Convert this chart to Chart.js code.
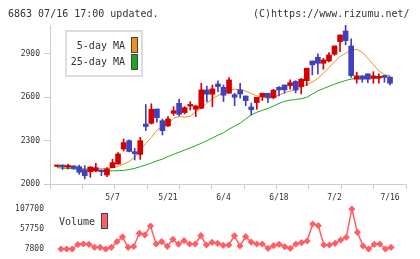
<!DOCTYPE html>
<html>
<head>
<meta charset="utf-8">
<script src="https://cdn.jsdelivr.net/npm/chart.js@4.4.1/dist/chart.umd.min.js"></script>
<style>
  html, body { margin: 0; padding: 0; background: #fff; }
  #wrap { position: relative; width: 420px; height: 259px; overflow: hidden;
          font-family: 'DejaVu Sans Mono', monospace; color: #333; }
  canvas { position: absolute; left: 0; }
  #main { top: 0; }
  #vol  { top: 204px; }
  .txt { position: absolute; font-size: 10px; line-height: 12px; white-space: pre; }
  .sw  { position: absolute; box-sizing: border-box; border: 1px solid #444; }
  #ma-box { position: absolute; left: 65px; top: 30px; width: 78px; height: 47px;
            box-sizing: border-box; border: 2px solid #ddd; background: #fff; }
</style>
</head>
<body>
<div id="wrap">
  <canvas id="main" width="420" height="205"></canvas>
  <canvas id="vol" width="420" height="55"></canvas>
  <div class="txt" style="left:8px; top:8px;">6863 07/16 17:00 updated.</div>
  <div class="txt" style="left:253px; top:8px;">(C)https://www.rizumu.net/</div>
  <div id="ma-box"></div>
  <div id="ma-legend"></div>
  <div class="txt" style="left:59px; top:216px;">Volume</div>
  <div class="sw" id="vol-sw" style="left:101px; top:213px; width:7px; height:16px;"></div>
</div>

<script>
/* ----------------------------------------------------------
   DATOS
---------------------------------------------------------- */
const dates = [
  '4/18','4/21','4/22','4/23','4/24','4/25','4/28','4/30','5/1','5/2',
  '5/7','5/8','5/9','5/12','5/13','5/14','5/15','5/16','5/19','5/20',
  '5/21','5/22','5/23','5/26','5/27','5/28','5/29','5/30','6/2','6/3',
  '6/4','6/5','6/6','6/9','6/10','6/11','6/12','6/13','6/16','6/17',
  '6/18','6/19','6/20','6/23','6/24','6/25','6/26','6/27','6/30','7/1',
  '7/2','7/3','7/4','7/7','7/8','7/9','7/10','7/11','7/14','7/15',
  '7/16',
];
const tickIdx = [10, 20, 30, 40, 50, 60];

const openPrice = [
  2122,2131,2118,2125,2120,2097,2085,2090,2097,2062,
  2113,2138,2242,2300,2224,2205,2415,2420,2519,2438,
  2402,2489,2558,2494,2540,2517,2524,2651,2621,2692,
  2669,2628,2618,2651,2609,2533,2563,2604,2628,2598,
  2669,2685,2681,2710,2674,2715,2851,2877,2835,2851,
  2898,2985,3059,2955,2725,2748,2762,2732,2732,2750,
  2740,
];
const highPrice = [
  2127,2133,2138,2127,2131,2127,2118,2143,2097,2113,
  2171,2217,2312,2305,2247,2323,2550,2555,2519,2450,
  2466,2535,2588,2535,2570,2545,2697,2678,2685,2713,
  2685,2736,2628,2697,2609,2560,2600,2628,2628,2655,
  2674,2685,2720,2715,2730,2801,2851,2900,2870,2909,
  2955,3031,3100,3004,2773,2750,2762,2777,2762,2752,
  2742,
];
const lowPrice = [
  2120,2100,2105,2104,2067,2035,2046,2085,2057,2051,
  2113,2138,2228,2222,2166,2170,2369,2415,2427,2339,
  2397,2475,2471,2485,2512,2466,2520,2570,2535,2639,
  2570,2628,2542,2593,2542,2478,2517,2577,2563,2590,
  2609,2628,2656,2630,2623,2681,2755,2761,2794,2845,
  2890,2916,2962,2739,2697,2704,2700,2697,2697,2704,
  2685,
];
const closePrice = [
  2126,2120,2125,2108,2081,2057,2118,2113,2085,2104,
  2148,2208,2286,2225,2210,2300,2398,2517,2459,2369,
  2450,2507,2482,2528,2550,2540,2651,2621,2658,2674,
  2614,2720,2600,2623,2577,2514,2600,2628,2598,2649,
  2651,2651,2701,2650,2725,2801,2824,2835,2858,2893,
  2955,3031,2992,2750,2748,2725,2725,2748,2745,2737,
  2697,
];

const ma5 = [
  2118,2116,2114,2112,2108,2106,2104,2105,2106,2106,
  2112,2122,2138,2155,2185,2235,2280,2322,2372,2400,
  2415,2455,2466,2462,2468,2500,2525,2560,2590,2612,
  2632,2650,2656,2653,2642,2626,2610,2600,2593,2598,
  2615,2632,2642,2655,2670,2688,2705,2730,2766,2805,
  2845,2882,2905,2925,2932,2911,2870,2825,2782,2757,
  2745,
];
const ma25 = [
  2113,2110,2107,2104,2101,2098,2095,2093,2092,2091,
  2091,2092,2094,2100,2108,2120,2132,2145,2160,2172,
  2190,2205,2220,2235,2250,2265,2282,2300,2318,2338,
  2355,2380,2400,2422,2450,2478,2496,2510,2522,2540,
  2557,2572,2580,2585,2590,2600,2622,2645,2660,2676,
  2690,2704,2716,2726,2731,2732,2732,2732,2733,2750,
  2752,
];

// volumen: 60 puntos (del 4/21 al 7/16)
const volume = [
  7800,7800,7800,19000,20300,19500,12000,12000,7800,12000,
  26000,38000,12000,14000,47000,43000,65200,20300,26000,14500,
  32000,20000,28500,20300,20300,41000,17800,24500,22000,17000,
  17800,40800,15300,38500,25000,20300,20300,9500,16000,19500,
  13500,9500,20300,23500,27800,70200,66000,17800,17800,22000,
  30300,37000,107700,49500,15300,7800,19500,20300,7800,12000,
];

const priceTicks  = [2000, 2300, 2600, 2900];
const volumeTicks = [7800, 57750, 107700];

const maLabels = ['5-day MA', '25-day MA'];
const maColors = ['#f28c1c', '#1ca81c'];

/* ----------------------------------------------------------
   ESTILOS
---------------------------------------------------------- */
const UP_COLOR   = '#d40000';
const DOWN_COLOR = '#4141bf';
const VOL_COLOR  = '#ff5e66';
const AXIS_COLOR = '#cccccc';
const TEXT_COLOR = '#333333';

Chart.defaults.font.family = "'DejaVu Sans Mono', monospace";
Chart.defaults.font.size   = 8;
Chart.defaults.color       = TEXT_COLOR;

/* ----------------------------------------------------------
   LEYENDA HTML (medias móviles)
---------------------------------------------------------- */
function renderMaLegend() {
  const el = document.getElementById('ma-legend');
  el.innerHTML = maLabels.map((lbl, i) => `
    <div class="txt" style="left:63px; top:${39.5 + i * 16.5}px; width:62px; text-align:right;">${lbl}</div>
    <div class="sw" style="left:131px; top:${37 + i * 17}px; width:7px; height:16px; background:${maColors[i]};"></div>
  `).join('');
  document.getElementById('vol-sw').style.background = VOL_COLOR;
}

/* ----------------------------------------------------------
   GRÁFICO PRINCIPAL — velas + medias
---------------------------------------------------------- */
function renderMain() {
  const idx    = dates.map((d, i) => i);
  const colors = idx.map(i => closePrice[i] >= openPrice[i] ? UP_COLOR : DOWN_COLOR);

  new Chart(document.getElementById('main'), {
    data: {
      datasets: [
        {
          type: 'bar',
          data: idx.map(i => ({ x: i, y: [openPrice[i], closePrice[i]] })),
          backgroundColor: colors,
          borderWidth: 0,
          barThickness: 5,
          minBarLength: 1.5,
          grouped: false,
          order: 1,
        },
        {
          type: 'bar',
          data: idx.map(i => ({ x: i, y: [lowPrice[i], highPrice[i]] })),
          backgroundColor: colors,
          borderWidth: 0,
          barThickness: 1,
          minBarLength: 1,
          grouped: false,
          order: 2,
        },
        {
          type: 'line',
          data: idx.map(i => ({ x: i, y: ma5[i] })),
          borderColor: maColors[0],
          borderWidth: 1,
          pointRadius: 0,
          order: 3,
        },
        {
          type: 'line',
          data: idx.map(i => ({ x: i, y: ma25[i] })),
          borderColor: maColors[1],
          borderWidth: 1,
          pointRadius: 0,
          order: 4,
        },
      ],
    },
    options: {
      responsive: false,
      animation: false,
      events: [],
      layout: { padding: { left: 0, right: 14, top: 25, bottom: 0 } },
      plugins: { legend: { display: false }, tooltip: { enabled: false } },
      scales: {
        x: {
          type: 'linear',
          position: 'bottom',
          weight: 1,
          offset: false,
          min: -1.26,
          max: 62.88,
          grid: { display: false, drawTicks: false, offset: false },
          border: { display: false },
          afterBuildTicks: s => { s.ticks = tickIdx.map(v => ({ value: v })); },
          afterFit: s => { s.height = 16; },
          ticks: {
            autoSkip: false,
            maxRotation: 0,
            padding: 4,
            callback: v => dates[v],
          },
        },
        xg: {
          type: 'linear',
          position: 'bottom',
          weight: 0,
          offset: false,
          min: 0,
          max: 11,
          afterFit: s => { s.height = 5; },
          ticks: { display: false, stepSize: 1 },
          grid: { drawOnChartArea: false, drawTicks: true, tickLength: 5, color: AXIS_COLOR, offset: false },
          border: { color: AXIS_COLOR },
        },
        y: {
          type: 'linear',
          position: 'left',
          min: 2000,
          max: 3100,
          afterBuildTicks: s => { s.ticks = priceTicks.map(v => ({ value: v })); },
          afterFit: s => { s.width = 50; },
          ticks: { padding: 4, callback: v => String(v) },
          grid: { drawOnChartArea: false, tickLength: 6, color: AXIS_COLOR },
          border: { color: AXIS_COLOR },
        },
      },
    },
  });
}

/* ----------------------------------------------------------
   GRÁFICO DE VOLUMEN
---------------------------------------------------------- */
function renderVolume() {
  new Chart(document.getElementById('vol'), {
    type: 'line',
    data: {
      datasets: [{
        data: volume.map((v, i) => ({ x: i + 1, y: v })),
        borderColor: VOL_COLOR,
        borderWidth: 1.5,
        pointStyle: 'rectRot',
        pointRadius: 3.6,
        pointBackgroundColor: VOL_COLOR,
        pointBorderWidth: 0,
        clip: false,
      }],
    },
    options: {
      responsive: false,
      animation: false,
      events: [],
      layout: { padding: { left: 0, right: 14, top: 5, bottom: 10 } },
      plugins: { legend: { display: false }, tooltip: { enabled: false } },
      scales: {
        x: { type: 'linear', display: false, min: -0.967, max: 62.68 },
        y: {
          min: 7800,
          max: 107700,
          afterBuildTicks: s => { s.ticks = volumeTicks.map(v => ({ value: v })); },
          afterFit: s => { s.width = 50; },
          ticks: { padding: 0, callback: v => String(v) },
          grid: { drawOnChartArea: false, drawTicks: true, tickLength: 6, color: 'rgba(0,0,0,0)' },
          border: { display: false },
        },
      },
    },
  });
}

/* ----------------------------------------------------------
   INICIALIZACIÓN
---------------------------------------------------------- */
renderMaLegend();
renderMain();
renderVolume();
</script>
</body>
</html>
